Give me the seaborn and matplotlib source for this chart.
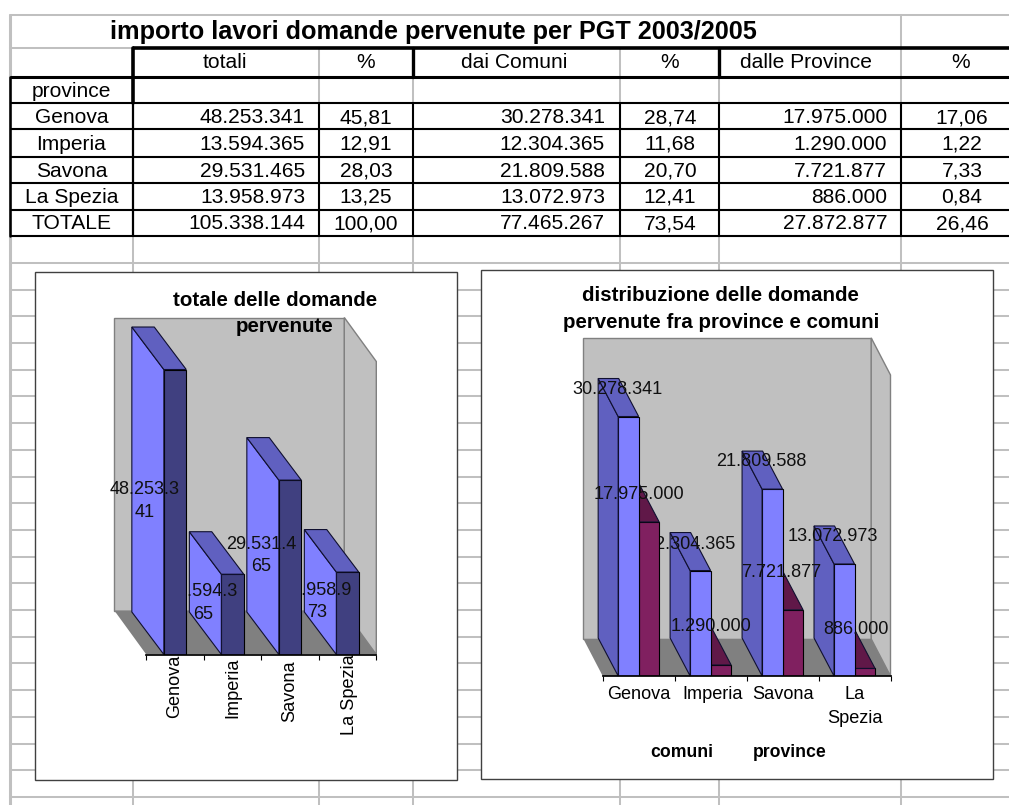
import numpy as np
import pandas as pd
import seaborn as sns
import matplotlib.pyplot as plt
from matplotlib.patches import Polygon, Rectangle
from matplotlib.transforms import Affine2D

sns.set_theme(style="white")
plt.rcParams['font.family'] = ['Liberation Sans']
plt.rcParams['text.color'] = 'black'

W, H = 1009, 805

province = ['Genova', 'Imperia', 'Savona', 'La Spezia']
righe = province + ['TOTALE']
totali = [48253341, 13594365, 29531465, 13958973, 105338144]
perc_totali = [45.81, 12.91, 28.03, 13.25, 100.00]
comuni = [30278341, 12304365, 21809588, 13072973, 77465267]
perc_comuni = [28.74, 11.68, 20.70, 12.41, 73.54]
prov = [17975000, 1290000, 7721877, 886000, 27872877]
perc_prov = [17.06, 1.22, 7.33, 0.84, 26.46]

titolo = 'importo lavori domande pervenute per PGT 2003/2005'
intestazioni = ['totali', '%', 'dai Comuni', '%', 'dalle Province', '%']


def migliaia(v):
    return f'{v:,}'.replace(',', '.')


def virgola(v):
    return f'{v:.2f}'.replace('.', ',')


px = Affine2D().scale(1, -1).translate(0, H)  # pixel coords, origin top left
GRID = '#c0c0c0'

fig = plt.figure(figsize=(W / 100, H / 100), dpi=100)
bg = fig.add_axes([0, 0, 1, 1], zorder=0)
bg.set_xlim(0, W)
bg.set_ylim(H, 0)
bg.axis('off')

###########################################################################
# spreadsheet grid
righe_griglia = [15, 48, 77, 103.5, 129.5, 157, 183.5, 210, 236.5] + list(np.arange(263, 800, 26.7))
for y in righe_griglia:
    bg.plot([10, W], [y, y], color=GRID, lw=1.45)
bg.plot([10, 10], [15, H], color=GRID, lw=2.2)
bg.plot([901, 901], [15, H], color=GRID, lw=1.45)
for x in [133, 319, 413, 620, 719]:
    bg.plot([x, x], [48, H], color=GRID, lw=1.45)

# table borders
for y, lw in zip([48, 77], [2.6, 2.2]):
    bg.plot([133 if y == 48 else 10, W], [y, y], color='black', lw=lw, solid_capstyle='butt')
for y in [103.5, 129.5, 157, 183.5, 210, 236.5]:
    bg.plot([10, W], [y, y], color='black', lw=1.5, solid_capstyle='butt')
bg.plot([10, 10], [77, 236.5], color='black', lw=1.8)
bg.plot([133, 133], [48, 103.5], color='black', lw=2.6)
bg.plot([133, 133], [103.5, 236.5], color='black', lw=1.6)
for x in [413, 719]:
    bg.plot([x, x], [48, 77], color='black', lw=2.4)
for x in [319, 413, 620, 719, 901]:
    bg.plot([x, x], [103.5, 236.5], color='black', lw=1.5)

# table text
FS = 15.1
bg.text(433.5, 39, titolo, fontsize=18.2, fontweight='bold', ha='center', va='baseline')
for x, t in zip([225, 366, 514, 670, 806, 961], intestazioni):
    bg.text(x, 68.3, t, fontsize=FS, ha='center', va='baseline')
bg.text(71.5, 96.7, 'province', fontsize=FS, ha='center', va='baseline')
for i, y in enumerate([123.3, 149.7, 176.7, 202.7, 229.3]):
    bg.text(71.5, y, righe[i], fontsize=FS, ha='center', va='baseline')
    bg.text(305, y, migliaia(totali[i]), fontsize=FS, ha='right', va='baseline')
    bg.text(366, y, virgola(perc_totali[i]), fontsize=FS, ha='center', va='baseline')
    bg.text(605, y, migliaia(comuni[i]), fontsize=FS, ha='right', va='baseline')
    bg.text(670, y, virgola(perc_comuni[i]), fontsize=FS, ha='center', va='baseline')
    bg.text(887, y, migliaia(prov[i]), fontsize=FS, ha='right', va='baseline')
    bg.text(962, y, virgola(perc_prov[i]), fontsize=FS, ha='center', va='baseline')

# chart frames
bg.add_patch(Rectangle((35, 271.5), 422, 508, fc='white', ec='#404040', lw=1, zorder=5))
bg.add_patch(Rectangle((480.6, 269.5), 512.4, 509, fc='white', ec='#404040', lw=1, zorder=5))


###########################################################################
# fake 3d helpers
def pannello(left, right, base, height_px, ymax):
    ax = fig.add_axes([left / W, (H - base) / H, (right - left) / W, height_px / H], zorder=1)
    ax.set_facecolor('none')
    return ax, ymax


def pareti(ax, x0, x1, base, wall_h, dx, dy):
    wl, wr, wb = x0 - dx, x1 - dx, base - dy
    wt = wb - wall_h
    kw = dict(transform=px, clip_on=False, ec='#808080', lw=1, zorder=1)
    ax.add_patch(Polygon([(wl, wt), (wr, wt), (wr, wb), (wl, wb)], fc='#c0c0c0', **kw))
    ax.add_patch(Polygon([(wr, wt), (x1, wt + dy), (x1, base), (wr, wb)], fc='#c0c0c0', **kw))
    ax.add_patch(Polygon([(wl, wb), (wr, wb), (x1, base), (x0, base)], fc='#808080',
                         transform=px, clip_on=False, lw=0, zorder=1))


def facce(ax, bar, dx, dy, col_lato, col_sopra, z):
    (xa, yb), (xb, yt) = ax.transData.transform([(bar.get_x(), 0), (bar.get_x() + bar.get_width(), bar.get_height())])
    yb, yt = H - yb, H - yt
    kw = dict(transform=px, clip_on=False, ec='#101030', lw=0.8, zorder=z)
    ax.add_patch(Polygon([(xa, yt), (xa, yb), (xa - dx, yb - dy), (xa - dx, yt - dy)], fc=col_lato, **kw))
    ax.add_patch(Polygon([(xa, yt), (xb, yt), (xb - dx, yt - dy), (xa - dx, yt - dy)], fc=col_sopra, **kw))
    bar.set_zorder(z)


def asse(ax):
    ax.set_xlim(-0.5, 3.5)
    ax.set_yticks([])
    ax.set_xlabel('')
    ax.set_ylabel('')
    sns.despine(ax=ax, left=True)
    ax.spines['bottom'].set_color('black')
    ax.spines['bottom'].set_zorder(9)
    ax.set_xticks(np.arange(-0.5, 4), minor=True)
    ax.tick_params(axis='x', which='minor', bottom=True, length=3.6, width=0.8, color='black')


FC = 13.1
FT = 14.8
###########################################################################
# chart 1: totale delle domande
dati1 = pd.DataFrame({'provincia': province, 'totali': totali[:4]})
ax1, ymax1 = pannello(146.3, 376.3, 654.5, 394.5, 394.5 / 5.906e-6)
sns.barplot(data=dati1, x='provincia', y='totali', color='#404080', saturation=1, width=0.39,
            edgecolor='black', linewidth=0.8, ax=ax1)
ax1.set_ylim(0, ymax1)
asse(ax1)
ax1.set_xticks(range(4), province, rotation=90, fontsize=FC, color='black')
ax1.tick_params(axis='x', which='major', bottom=False, length=0, pad=0)
# the original labels sit a little unevenly under the axis
for lab, (sx, sy) in zip(ax1.get_xticklabels(), [(0, 0), (0, -3), (0, -6), (2, 0)]):
    lab.set_transform(lab.get_transform() + Affine2D().translate(sx, sy))

pareti(ax1, 146.3, 376.3, 654.5, 293, 32, 44)
strati1 = [5, 3, 5, 3]
for bar, z in zip(ax1.containers[0], strati1):
    facce(ax1, bar, 32, 42.5, '#8080ff', '#6060c0', z)

# labels wrap in the narrow column of the original chart
pos_et1 = [(145, 501), (203, 603), (261, 555.5), (317, 601.5)]
for v, (x, y), z in zip(totali, pos_et1, strati1):
    t = migliaia(v)
    ax1.text(x, y, t[:8] + '\n' + t[8:], transform=px, fontsize=FC, ha='center', va='center',
             linespacing=1.4, color='#101010', zorder=z + 1, clip_on=False)

ax1.text(275, 300, 'totale delle domande', transform=px, fontsize=FT, fontweight='bold',
         ha='center', va='center', zorder=12)
ax1.text(285, 326, 'pervenute', transform=px, fontsize=FT, fontweight='bold',
         ha='center', va='center', zorder=12)

###########################################################################
# chart 2: distribuzione fra province e comuni
dati2 = pd.DataFrame({'provincia': province * 2,
                      'valore': comuni[:4] + prov[:4],
                      'tipo': ['comuni'] * 4 + ['province'] * 4})
ax2, ymax2 = pannello(602.7, 890.5, 676, 400, 400 / 8.57e-6)
sns.barplot(data=dati2, x='provincia', y='valore', hue='tipo', palette=['#8080ff', '#802060'],
            saturation=1, width=0.57, gap=0, edgecolor='black', linewidth=0.8, legend=False, ax=ax2)
ax2.set_ylim(0, ymax2)
asse(ax2)
ax2.set_xticks(range(4), ['Genova', 'Imperia', 'Savona', 'La\nSpezia'], fontsize=FC, color='black',
               linespacing=1.55)
ax2.tick_params(axis='x', which='major', bottom=False, length=0, pad=7)
lab_imperia = ax2.get_xticklabels()[1]
lab_imperia.set_transform(lab_imperia.get_transform() + Affine2D().translate(2, 0))

pareti(ax2, 602.7, 890.5, 676, 301, 19.3, 37.1)
strati2 = [5, 3, 3, 3]
for bar, z in zip(ax2.containers[1], strati2):
    facce(ax2, bar, 20, 38, '#601848', '#601848', z)
for bar, z in zip(ax2.containers[0], strati2):
    facce(ax2, bar, 20, 38, '#6060c0', '#6060c0', z + 1)

pos_comuni = [(617.8, 389), (691, 544), (761, 461), (832.7, 536)]
pos_prov = [(639, 494), (710.5, 626.7), (781.5, 572.8), (855.6, 629.8)]
for v, (x, y), z in zip(comuni, pos_comuni, [10, 4.5, 10, 10]):
    ax2.text(x, y, migliaia(v), transform=px, fontsize=FC, ha='center', va='center',
             color='#101010', zorder=z, clip_on=False)
for v, (x, y) in zip(prov, pos_prov):
    ax2.text(x, y, migliaia(v), transform=px, fontsize=FC, ha='center', va='center',
             color='#101010', zorder=10, clip_on=False)

ax2.text(720.5, 295.5, 'distribuzione delle domande', transform=px, fontsize=FT, fontweight='bold',
         ha='center', va='center', zorder=12)
ax2.text(721, 322, 'pervenute fra province e comuni', transform=px, fontsize=FT, fontweight='bold',
         ha='center', va='center', zorder=12)
ax2.text(682, 752.6, 'comuni', transform=px, fontsize=12.7, fontweight='bold', ha='center', va='center')
ax2.text(789.4, 752.6, 'province', transform=px, fontsize=12.7, fontweight='bold', ha='center', va='center')

fig.savefig('out.png', dpi=100)
